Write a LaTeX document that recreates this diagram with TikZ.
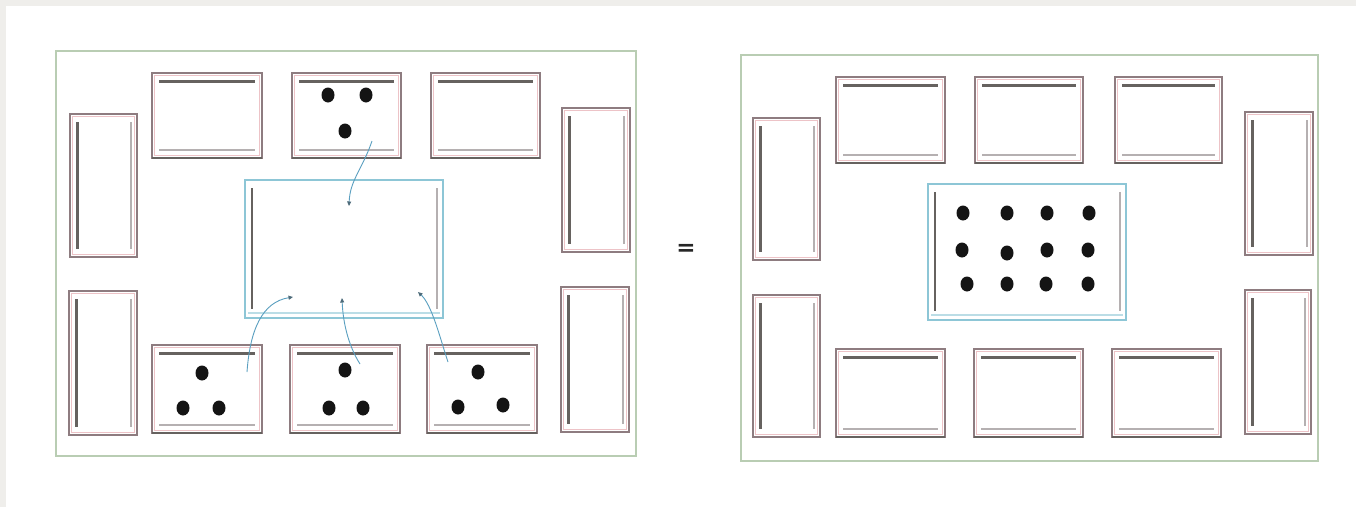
\documentclass[tikz,border=0pt]{standalone}
\usepackage{fontspec}
\setsansfont{DejaVu Sans}
\usetikzlibrary{arrows.meta,shapes.geometric}
\definecolor{framegreen}{HTML}{B9CDB3}
\definecolor{roomedge}{HTML}{8E7C80}
\definecolor{roompink}{HTML}{EDC3C7}
\definecolor{bardark}{HTML}{66625F}
\definecolor{barlight}{HTML}{B5B0B1}
\definecolor{centerblue}{HTML}{8DC6D6}
\definecolor{arrowblue}{HTML}{5A9FC0}
\definecolor{tipcol}{HTML}{4D6B7A}
\definecolor{bggrey}{HTML}{EFEEEB}
\tikzset{
  frame/.style={draw=framegreen, line width=1.6pt},
  roomout/.style={draw=roomedge, line width=1.7pt, rectangle, inner sep=0pt, outer sep=0pt, fill=white},
  roominner/.style={draw=roompink, line width=0.9pt},
  darkbar/.style={draw=bardark, line width=3pt},
  lightbar/.style={draw=barlight, line width=1.8pt},
  centerroom/.style={draw=centerblue, line width=2.6pt, rectangle, inner sep=0pt, outer sep=0pt, fill=white},
  dot/.style={fill=black!92, draw=none, ellipse, inner sep=0pt, minimum width=13pt, minimum height=15pt},
  flow/.style={draw=arrowblue, line width=0.9pt, -{Triangle[length=4.5pt,width=4pt,fill=tipcol,color=tipcol]}},
}
\newcommand\HRoom[5]{% name x1 y1 x2 y2
  \pgfmathsetmacro\rw{#4-#2}\pgfmathsetmacro\rh{#5-#3}%
  \pgfmathsetmacro\rx{(#2+#4)/2}\pgfmathsetmacro\ry{(#3+#5)/2}%
  \node[roomout, minimum width=\rw pt, minimum height=\rh pt] (#1) at (\rx,\ry) {};
  \draw[roominner] ([xshift=2.5pt,yshift=-2.5pt]#1.north west) rectangle ([xshift=-2.5pt,yshift=2.5pt]#1.south east);
  \draw[darkbar] ([xshift=7pt,yshift=-8pt]#1.north west) -- ([xshift=-7pt,yshift=-8pt]#1.north east);
  \draw[lightbar] ([xshift=7pt,yshift=8pt]#1.south west) -- ([xshift=-7pt,yshift=8pt]#1.south east);
  \draw[draw=bardark, line width=1.6pt] (#1.south west) -- (#1.south east);
}
\newcommand\VRoom[5]{% name x1 y1 x2 y2
  \pgfmathsetmacro\rw{#4-#2}\pgfmathsetmacro\rh{#5-#3}%
  \pgfmathsetmacro\rx{(#2+#4)/2}\pgfmathsetmacro\ry{(#3+#5)/2}%
  \node[roomout, minimum width=\rw pt, minimum height=\rh pt] (#1) at (\rx,\ry) {};
  \draw[roominner] ([xshift=2.5pt,yshift=-2.5pt]#1.north west) rectangle ([xshift=-2.5pt,yshift=2.5pt]#1.south east);
  \draw[darkbar] ([xshift=7pt,yshift=-8pt]#1.north west) -- ([xshift=7pt,yshift=8pt]#1.south west);
  \draw[lightbar] ([xshift=-6pt,yshift=-8pt]#1.north east) -- ([xshift=-6pt,yshift=8pt]#1.south east);
}
\newcommand\CRoom[5]{% name x1 y1 x2 y2
  \pgfmathsetmacro\rw{#4-#2}\pgfmathsetmacro\rh{#5-#3}%
  \pgfmathsetmacro\rx{(#2+#4)/2}\pgfmathsetmacro\ry{(#3+#5)/2}%
  \node[centerroom, minimum width=\rw pt, minimum height=\rh pt] (#1) at (\rx,\ry) {};
  \draw[darkbar, line width=2.6pt] ([xshift=7pt,yshift=-8pt]#1.north west) -- ([xshift=7pt,yshift=9pt]#1.south west);
  \draw[lightbar] ([xshift=-6pt,yshift=-8pt]#1.north east) -- ([xshift=-6pt,yshift=9pt]#1.south east);
  \draw[draw=centerblue!60, line width=1.2pt] ([xshift=3pt,yshift=5pt]#1.south west) -- ([xshift=-3pt,yshift=5pt]#1.south east);
}
\begin{document}
\begin{tikzpicture}[x=1pt,y=-1pt]
\useasboundingbox (0,0) rectangle (1356,507);
\fill[bggrey] (0,0) rectangle (1356,507);
\fill[white] (6,6) rectangle (1356,507);

% frames
\node[frame, rectangle, inner sep=0pt, minimum width=580pt, minimum height=405pt] (leftframe) at (346,253.5) {};
\node[frame, rectangle, inner sep=0pt, minimum width=577pt, minimum height=406pt] (rightframe) at (1029.5,258) {};

% ---------- left panel ----------
\HRoom{LT1}{152}{73}{262}{158}
\HRoom{LT2}{292}{73}{401}{158}
\HRoom{LT3}{431}{73}{540}{158}
\HRoom{LB1}{152}{345}{262}{433}
\HRoom{LB2}{290}{345}{400}{433}
\HRoom{LB3}{427}{345}{537}{433}
\VRoom{LL1}{70}{114}{137}{257}
\VRoom{LL2}{69}{291}{137}{435}
\VRoom{LR1}{562}{108}{630}{252}
\VRoom{LR2}{561}{287}{629}{432}
\CRoom{LC}{245}{180}{443}{318}

% dots in left rooms
\node[dot] (d1) at (328,95) {};
\node[dot] (d2) at (366,95) {};
\node[dot] (d3) at (345,131) {};
\node[dot] (d4) at (202,373) {};
\node[dot] (d5) at (183,408) {};
\node[dot] (d6) at (219,408) {};
\node[dot] (d7) at (345,370) {};
\node[dot] (d8) at (329,408) {};
\node[dot] (d9) at (363,408) {};
\node[dot] (d10) at (478,372) {};
\node[dot] (d11) at (458,407) {};
\node[dot] (d12) at (503,405) {};

% arrows
\coordinate (s1) at (372,141); \coordinate (e1) at (349,206);
\coordinate (s2) at (247,372); \coordinate (e2) at (293,297);
\coordinate (s3) at (360,364); \coordinate (e3) at (342,298);
\coordinate (s4) at (448,362); \coordinate (e4) at (418,292);
\draw[flow] (s1) .. controls (362,170) and (350,180) .. (e1);
\draw[flow] (s2) .. controls (250,330) and (262,302) .. (e2);
\draw[flow] (s3) .. controls (348,345) and (343,322) .. (e3);
\draw[flow] (s4) .. controls (440,338) and (432,305) .. (e4);

% equals sign
\node[font=\sffamily\bfseries\fontsize{23}{23}\selectfont, text=black!85, inner sep=0pt] (eq) at (686,250) {=};

% ---------- right panel ----------
\HRoom{RT1}{836}{77}{945}{163}
\HRoom{RT2}{975}{77}{1083}{163}
\HRoom{RT3}{1115}{77}{1222}{163}
\HRoom{RB1}{836}{349}{945}{437}
\HRoom{RB2}{974}{349}{1083}{437}
\HRoom{RB3}{1112}{349}{1221}{437}
\VRoom{RL1}{753}{118}{820}{260}
\VRoom{RL2}{753}{295}{820}{437}
\VRoom{RR1}{1245}{112}{1313}{255}
\VRoom{RR2}{1245}{290}{1311}{434}
\CRoom{RC}{928}{184}{1126}{320}

% 12 dots
\node[dot] (r1) at (963,213) {};
\node[dot] (r2) at (1007,213) {};
\node[dot] (r3) at (1047,213) {};
\node[dot] (r4) at (1089,213) {};
\node[dot] (r5) at (962,250) {};
\node[dot] (r6) at (1007,253) {};
\node[dot] (r7) at (1047,250) {};
\node[dot] (r8) at (1088,250) {};
\node[dot] (r9) at (967,284) {};
\node[dot] (r10) at (1007,284) {};
\node[dot] (r11) at (1046,284) {};
\node[dot] (r12) at (1088,284) {};
\end{tikzpicture}
\end{document}
